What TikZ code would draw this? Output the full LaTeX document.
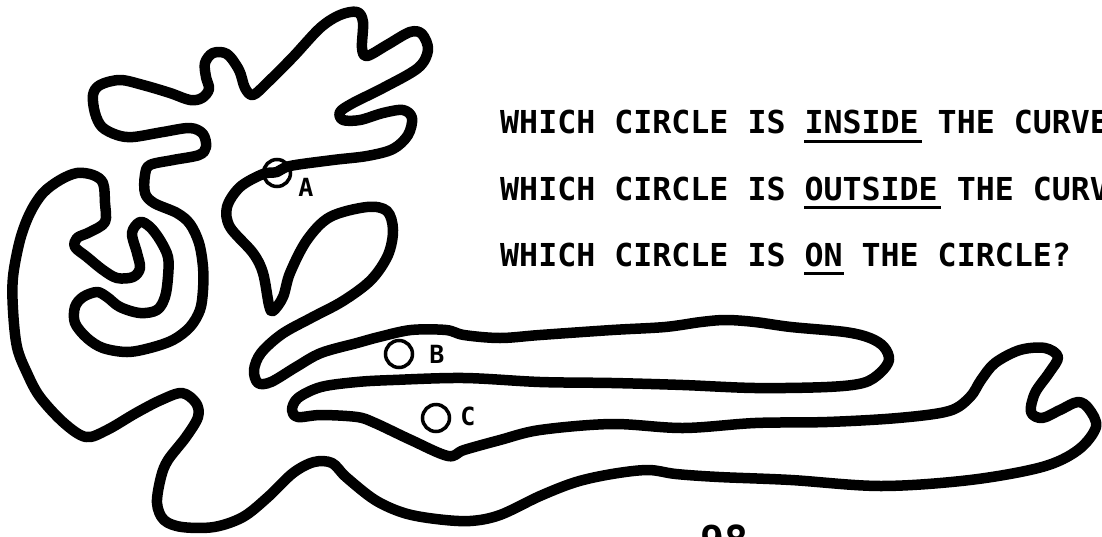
\documentclass[tikz,border=0pt]{standalone}
\usepackage{fontspec}
\newfontfamily\tw{DejaVu Sans Mono}
\begin{document}
\begin{tikzpicture}[x=1pt,y=-1pt,
  curve/.style={line width=10.5pt, line join=round, line cap=round},
  ring/.style={draw, circle, line width=3.5pt, minimum size=27pt, inner sep=0pt},
  lbl/.style={font=\tw\bfseries\fontsize{25}{25}\selectfont, inner sep=0pt},
  qtext/.style={font=\tw\bfseries\fontsize{31.6}{32}\selectfont, inner sep=0pt, anchor=base west},
  uline/.style={line width=3pt},
  pnum/.style={font=\tw\bfseries\fontsize{40}{40}\selectfont, inner sep=0pt, anchor=base west}]
\useasboundingbox (0,0) rectangle (1102,536);
\clip (0,0) rectangle (1102,536);
\draw[curve] plot[smooth cycle, tension=0.55] coordinates {
(277,172) (290,166) (333,160) (367,156) (393,149) (408,135) (412,118) (403,110)
(383,113) (360,120) (343,120) (340,112) (353,103) (383,88) (418,68) (428,50)
(422,34) (410,32) (387,45) (367,56) (362,48) (363,22) (357,12) (340,15)
(320,28) (293,57) (267,83) (253,95) (245,88) (239,70) (227,54) (213,53)
(205,63) (206,77) (209,89) (202,98) (190,100) (170,93) (143,85) (120,80)
(100,85) (93,95) (95,113) (102,127) (117,135) (133,137) (163,132) (190,128)
(203,134) (206,147) (199,155) (173,160) (150,165) (145,175) (145,193) (154,203)
(177,213) (190,224) (199,243) (203,267) (203,290) (200,310) (190,327) (173,340)
(150,348) (127,352) (103,348) (87,338) (75,323) (75,307) (83,297) (97,292)
(107,297) (120,307) (140,313) (157,310) (165,297) (168,277) (168,257) (160,240)
(150,227) (140,222) (132,233) (137,253) (140,268) (133,277) (117,278) (103,270)
(87,257) (75,247) (77,238) (90,232) (105,222) (105,203) (103,183) (93,175)
(77,173) (60,180) (43,193) (30,213) (20,240) (13,277) (13,310) (17,347)
(27,373) (40,397) (64,423) (86,437) (107,430) (136,413) (161,400) (182,393)
(196,403) (198,417) (186,437) (168,460) (161,477) (157,503) (164,520) (182,527)
(214,527) (243,517) (268,497) (293,473) (314,462) (332,463) (346,477) (375,500)
(404,513) (436,519) (470,521) (500,515) (540,496) (576,482) (612,474) (648,470)
(676,474) (719,477) (791,480) (881,486) (970,480) (1042,467) (1078,450) (1096,427)
(1089,409) (1078,402) (1060,410) (1042,418) (1031,412) (1035,393) (1049,373) (1058,357)
(1045,348) (1020,350) (995,363) (981,380) (970,397) (949,411) (898,418) (827,422)
(755,423) (683,428) (612,424) (540,430) (500,440) (464,450) (448,456) (411,440)
(375,423) (357,417) (321,415) (298,417) (292,410) (298,398) (321,387) (357,382)
(393,380) (464,378) (540,382) (612,383) (683,385) (755,388) (827,387) (863,383)
(880,373) (889,360) (884,347) (870,338) (845,332) (791,327) (755,322) (726,320)
(701,322) (665,327) (612,330) (540,335) (500,338) (464,335) (446,330) (411,330)
(379,337) (357,343) (321,353) (296,367) (271,382) (258,383) (254,370) (261,353)
(282,334) (311,318) (343,301) (371,280) (388,255) (393,230) (387,211) (367,207)
(330,217) (307,240) (290,273) (283,297) (273,311) (269,305) (263,273) (253,253)
(230,227) (227,207) (240,187) (263,174)};
% circles and labels
\node[ring] (cA) at (277,173) {};
\node[lbl] (lA) at (306,187) {A};
\node[ring] (cB) at (399,354) {};
\node[lbl] (lB) at (437,354) {B};
\node[ring] (cC) at (436,418) {};
\node[lbl] (lC) at (468,416) {C};
% questions
\node[qtext] (q1) at (500,133) {WHICH CIRCLE IS INSIDE THE CURVE};
\node[qtext] (q2) at (500,200) {WHICH CIRCLE IS OUTSIDE THE CURVE};
\node[qtext] (q3) at (500,266) {WHICH CIRCLE IS ON THE CIRCLE?};
\draw[uline] (804,141) -- (922,141);
\draw[uline] (804,207) -- (941,207);
\draw[uline] (804,273) -- (844,273);
% page number
\node[pnum] (pg) at (700,554) {98};
\end{tikzpicture}
\end{document}
